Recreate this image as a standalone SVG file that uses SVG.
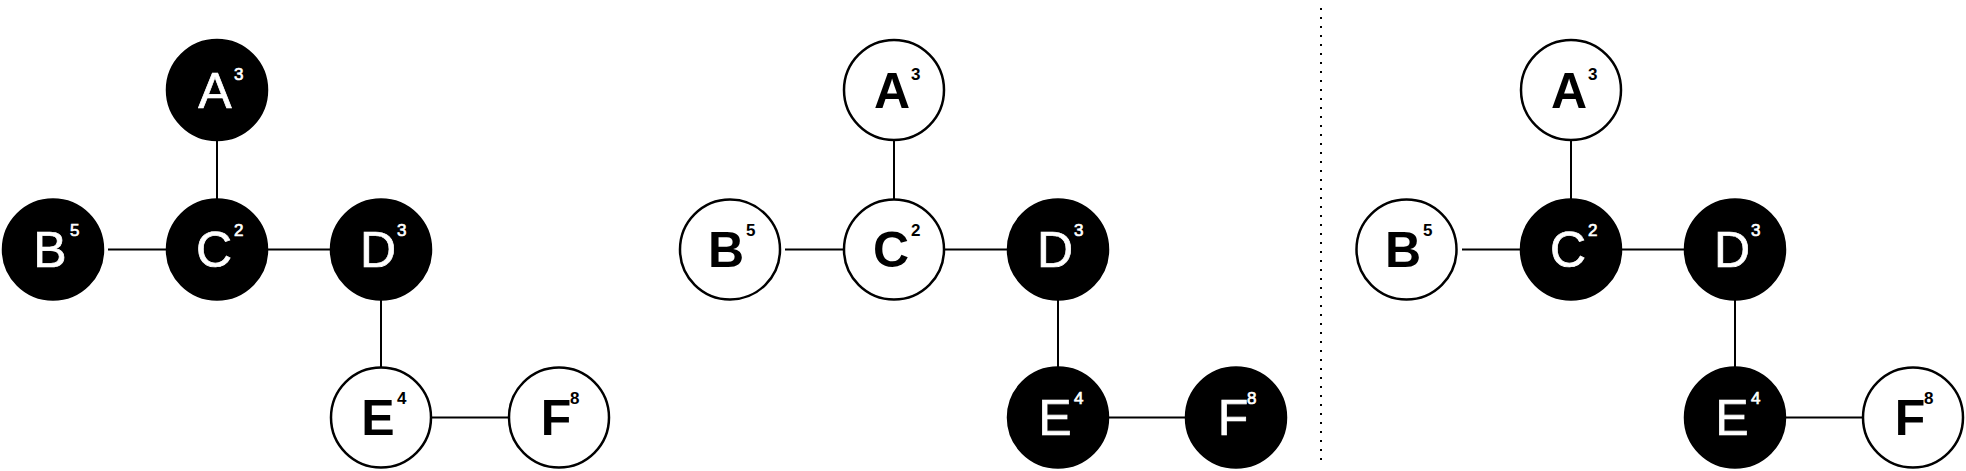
<svg xmlns="http://www.w3.org/2000/svg" width="1966" height="471" viewBox="0 0 1966 471">
<style>
.n circle{stroke:#000;stroke-width:2.5}
.dk circle{fill:#000}
.lt circle{fill:#fff}
.n text{font-family:"Liberation Sans",Arial,sans-serif}
.dk text{fill:#fff;font-weight:normal;stroke:#fff;stroke-width:0.7}
.lt text{fill:#000;font-weight:bold}
.L{font-size:50px;text-anchor:middle}
.S{font-size:17px}
.e line{stroke:#000;stroke-width:2}
</style>
<rect width="1966" height="471" fill="#fff"/>
<g id="connectors" class="e">
<line x1="217" y1="141" x2="217" y2="199"/>
<line x1="108" y1="249.5" x2="166" y2="249.5"/>
<line x1="268" y1="249.5" x2="330" y2="249.5"/>
<line x1="381" y1="300" x2="381" y2="367"/>
<line x1="432" y1="417.5" x2="508" y2="417.5"/>
<line x1="894" y1="141" x2="894" y2="199"/>
<line x1="785" y1="249.5" x2="843" y2="249.5"/>
<line x1="945" y1="249.5" x2="1007" y2="249.5"/>
<line x1="1058" y1="300" x2="1058" y2="367"/>
<line x1="1109" y1="417.5" x2="1186" y2="417.5"/>
<line x1="1571" y1="141" x2="1571" y2="199"/>
<line x1="1462" y1="249.5" x2="1520" y2="249.5"/>
<line x1="1622" y1="249.5" x2="1684" y2="249.5"/>
<line x1="1735" y1="300" x2="1735" y2="367"/>
<line x1="1786" y1="417.5" x2="1863" y2="417.5"/>
<line x1="1321" y1="8" x2="1321" y2="460" stroke-dasharray="2 7"/>
</g>
<g id="p1A" class="n dk"><circle cx="217" cy="90" r="50"/><text class="L" x="215" y="108">A</text><text class="S" x="234" y="80">3</text></g>
<g id="p1B" class="n dk"><circle cx="53" cy="249.5" r="50"/><text class="L" x="50" y="267">B</text><text class="S" x="70" y="236">5</text></g>
<g id="p1C" class="n dk"><circle cx="217" cy="249.5" r="50"/><text class="L" x="214" y="267">C</text><text class="S" x="234" y="236">2</text></g>
<g id="p1D" class="n dk"><circle cx="381" cy="249.5" r="50"/><text class="L" x="378" y="267">D</text><text class="S" x="397" y="236">3</text></g>
<g id="p1E" class="n lt"><circle cx="381" cy="417.5" r="50"/><text class="L" x="378" y="435">E</text><text class="S" x="397" y="404">4</text></g>
<g id="p1F" class="n lt"><circle cx="559" cy="417.5" r="50"/><text class="L" x="556" y="435">F</text><text class="S" x="570" y="404">8</text></g>
<g id="p2A" class="n lt"><circle cx="894" cy="90" r="50"/><text class="L" x="892" y="108">A</text><text class="S" x="911" y="80">3</text></g>
<g id="p2B" class="n lt"><circle cx="730" cy="249.5" r="50"/><text class="L" x="726" y="267">B</text><text class="S" x="746" y="236">5</text></g>
<g id="p2C" class="n lt"><circle cx="894" cy="249.5" r="50"/><text class="L" x="891" y="267">C</text><text class="S" x="911" y="236">2</text></g>
<g id="p2D" class="n dk"><circle cx="1058" cy="249.5" r="50"/><text class="L" x="1055" y="267">D</text><text class="S" x="1074" y="236">3</text></g>
<g id="p2E" class="n dk"><circle cx="1058" cy="417.5" r="50"/><text class="L" x="1055" y="435">E</text><text class="S" x="1074" y="404">4</text></g>
<g id="p2F" class="n dk"><circle cx="1236" cy="417.5" r="50"/><text class="L" x="1233" y="435">F</text><text class="S" x="1247" y="404">8</text></g>
<g id="p3A" class="n lt"><circle cx="1571" cy="90" r="50"/><text class="L" x="1569" y="108">A</text><text class="S" x="1588" y="80">3</text></g>
<g id="p3B" class="n lt"><circle cx="1406.5" cy="249.5" r="50"/><text class="L" x="1403" y="267">B</text><text class="S" x="1423" y="236">5</text></g>
<g id="p3C" class="n dk"><circle cx="1571" cy="249.5" r="50"/><text class="L" x="1568" y="267">C</text><text class="S" x="1588" y="236">2</text></g>
<g id="p3D" class="n dk"><circle cx="1735" cy="249.5" r="50"/><text class="L" x="1732" y="267">D</text><text class="S" x="1751" y="236">3</text></g>
<g id="p3E" class="n dk"><circle cx="1735" cy="417.5" r="50"/><text class="L" x="1732" y="435">E</text><text class="S" x="1751" y="404">4</text></g>
<g id="p3F" class="n lt"><circle cx="1913" cy="417.5" r="50"/><text class="L" x="1910" y="435">F</text><text class="S" x="1924" y="404">8</text></g>
</svg>
